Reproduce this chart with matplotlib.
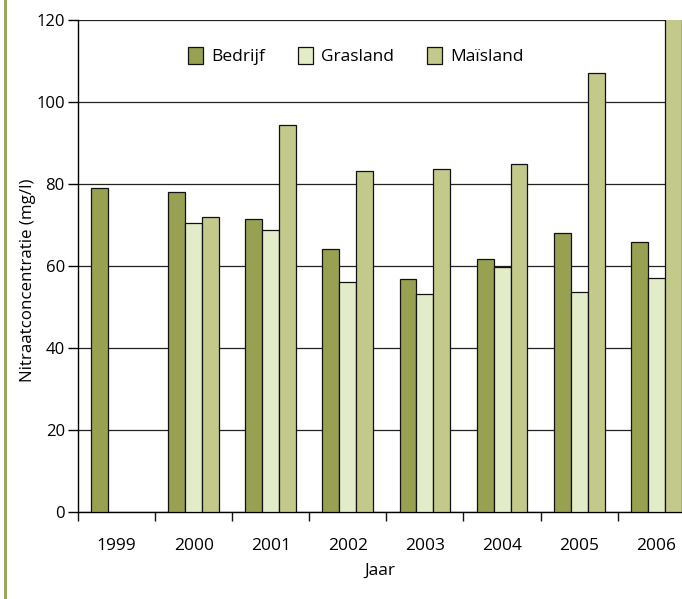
import numpy as np
import matplotlib.pyplot as plt
from matplotlib.patches import Rectangle

# nitraat data per jaar (mg/l)
jaren = ['1999', '2000', '2001', '2002', '2003', '2004', '2005', '2006']
bedrijf = [79.0, 78.0, 71.4, 64.0, 56.7, 61.6, 67.9, 65.7]
grasland = [np.nan, 70.4, 68.8, 56.1, 53.2, 59.8, 53.6, 57.0]
maisland = [np.nan, 71.8, 94.4, 83.2, 83.7, 84.9, 107.0, 122.0]
reeksen = ['Bedrijf', 'Grasland', 'Maïsland']

kleuren = ['#97a151', '#e3ecc9', '#c3c98b']

plt.rcParams['font.family'] = ['Open Sans', 'DejaVu Sans']

W, H = 682, 599
fig = plt.figure(figsize=(W / 100, H / 100), dpi=100)
# axes loopt rechts door tot buiten het beeld (2006 valt half weg)
ax = fig.add_axes([78 / W, 87.3 / H, 616.8 / W, 491.7 / H])

x = np.arange(len(jaren))
w = 0.22
for i, (vals, naam) in enumerate(zip([bedrijf, grasland, maisland], reeksen)):
    ax.bar(x + (i - 1) * w, vals, width=w, color=kleuren[i], edgecolor='#111111',
           linewidth=0.9, label=naam, zorder=3)

ax.set_xlim(-0.5, len(jaren) - 0.5)
ax.set_ylim(0, 120)
ax.set_yticks(range(0, 121, 20))
ax.yaxis.grid(True, color='#222222', linewidth=0.9)
ax.set_axisbelow(True)

for s in ['top', 'right']:
    ax.spines[s].set_visible(False)
ax.spines['left'].set_linewidth(1.0)
ax.spines['bottom'].set_linewidth(1.0)

ax.set_xticks(np.arange(-0.5, len(jaren), 1))
ax.set_xticklabels([])
ax.set_xticks(x, minor=True)
ax.set_xticklabels(jaren, minor=True)
ax.tick_params(axis='x', which='major', length=6.5, width=1.0, color='#111111')
ax.tick_params(axis='x', which='minor', length=0, pad=19, labelsize=12.5)
ax.tick_params(axis='y', length=7.5, width=1.0, pad=2, labelsize=12)

ax.set_ylabel('Nitraatconcentratie (mg/l)', fontsize=12.2)
ax.yaxis.set_label_coords(-0.068, 0.47)
ax.set_xlabel('Jaar', fontsize=12.5)
ax.xaxis.set_label_coords(0.49, -0.104)

fig.legend(loc='center', bbox_to_anchor=(356 / W, 1 - 56 / H), ncol=3, frameon=False,
           fontsize=12.5, handlelength=0.84, handleheight=1.2, handletextpad=0.5,
           columnspacing=1.9)

# groene streep langs de linkerrand
fig.add_artist(Rectangle((4 / W, 0), 2.5 / W, 1, transform=fig.transFigure,
                         color='#9ba55c', linewidth=0))

fig.savefig('out.png', dpi=100)
